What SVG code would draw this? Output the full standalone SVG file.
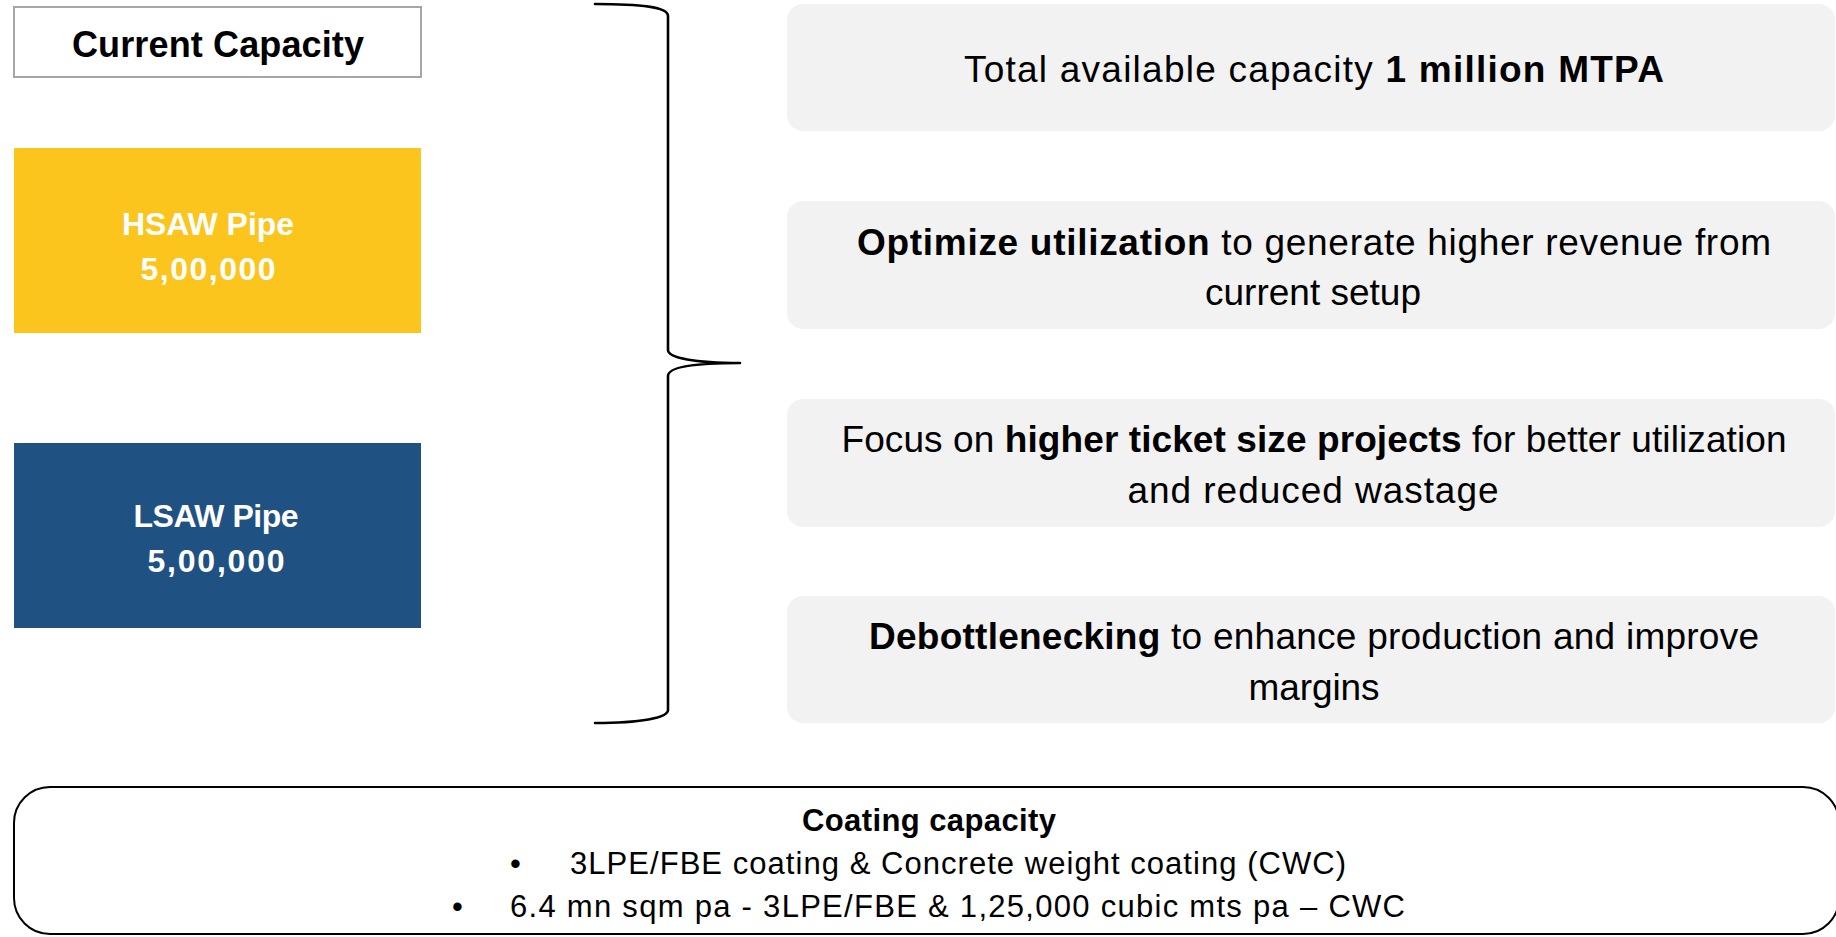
<svg xmlns="http://www.w3.org/2000/svg" width="1836" height="937" viewBox="0 0 1836 937">
  <style>
    text { font-family: "Liberation Sans", Arial, sans-serif; }
    .hdr { font-size: 36px; font-weight: bold; fill: #000; text-anchor: middle; }
    .pipe { font-size: 32px; font-weight: bold; fill: #fff; text-anchor: middle; }
    .card { fill: #F2F2F2; }
    .ct { font-size: 37px; fill: #000; text-anchor: middle; }
    .b { font-weight: bold; }
    .bt { font-size: 31px; fill: #000; }
    .brace { fill: none; stroke: #000; stroke-width: 2.6; stroke-linejoin: round; stroke-linecap: round; }
  </style>
  <rect width="1836" height="937" fill="#fff"/>

  <g id="current-capacity">
    <rect x="14" y="7" width="407" height="70" fill="#fff" stroke="#A6A6A6" stroke-width="2"/>
    <text class="hdr" x="218" y="57" textLength="292" lengthAdjust="spacing">Current Capacity</text>
  </g>

  <g id="hsaw">
    <rect x="14" y="148" width="407" height="185" fill="#FBC51E"/>
    <text class="pipe" x="208" y="235" textLength="172" lengthAdjust="spacing">HSAW Pipe</text>
    <text class="pipe" x="208" y="280" textLength="135" lengthAdjust="spacing">5,00,000</text>
  </g>

  <g id="lsaw">
    <rect x="14" y="443" width="407" height="185" fill="#1F5182"/>
    <text class="pipe" x="216" y="527" textLength="165" lengthAdjust="spacing">LSAW Pipe</text>
    <text class="pipe" x="216" y="572" textLength="137" lengthAdjust="spacing">5,00,000</text>
  </g>

  <g id="connectors">
    <path id="brace" class="brace" d="M595,4 C640,4 668,7 668,16 L668,350 C668,358 695,363 740,363 C695,363 668,367 668,376 L668,710 C668,718 640,723 595,723"/>
  </g>

  <g id="card-total">
    <rect class="card" x="787" y="4" width="1048" height="127" rx="16"/>
    <text class="ct" x="1314" y="82" textLength="700" lengthAdjust="spacing">Total available capacity <tspan class="b">1 million MTPA</tspan></text>
  </g>

  <g id="card-optimize">
    <rect class="card" x="787" y="201" width="1048" height="128" rx="16"/>
    <text class="ct" x="1314" y="255" textLength="914" lengthAdjust="spacing"><tspan class="b">Optimize utilization</tspan> to generate higher revenue from</text>
    <text class="ct" x="1313" y="305" textLength="216" lengthAdjust="spacing">current setup</text>
  </g>

  <g id="card-focus">
    <rect class="card" x="787" y="399" width="1048" height="128" rx="16"/>
    <text class="ct" x="1314" y="452" textLength="945" lengthAdjust="spacing">Focus on <tspan class="b">higher ticket size projects</tspan> for better utilization</text>
    <text class="ct" x="1313" y="503" textLength="371" lengthAdjust="spacing">and reduced wastage</text>
  </g>

  <g id="card-debottleneck">
    <rect class="card" x="787" y="596" width="1048" height="127" rx="16"/>
    <text class="ct" x="1314" y="649" textLength="890" lengthAdjust="spacing"><tspan class="b">Debottlenecking</tspan> to enhance production and improve</text>
    <text class="ct" x="1314" y="700" textLength="131" lengthAdjust="spacing">margins</text>
  </g>

  <g id="coating">
    <rect x="14" y="787" width="1825" height="147" rx="36" fill="#fff" stroke="#000" stroke-width="2"/>
    <text class="bt b" x="929" y="831" text-anchor="middle" textLength="254" lengthAdjust="spacing">Coating capacity</text>
    <text class="bt" x="510" y="874">•</text>
    <text class="bt" x="570" y="874" textLength="776" lengthAdjust="spacing">3LPE/FBE coating &amp; Concrete weight coating (CWC)</text>
    <text class="bt" x="452" y="917">•</text>
    <text class="bt" x="510" y="917" textLength="895" lengthAdjust="spacing">6.4 mn sqm pa - 3LPE/FBE &amp; 1,25,000 cubic mts pa – CWC</text>
  </g>
</svg>
